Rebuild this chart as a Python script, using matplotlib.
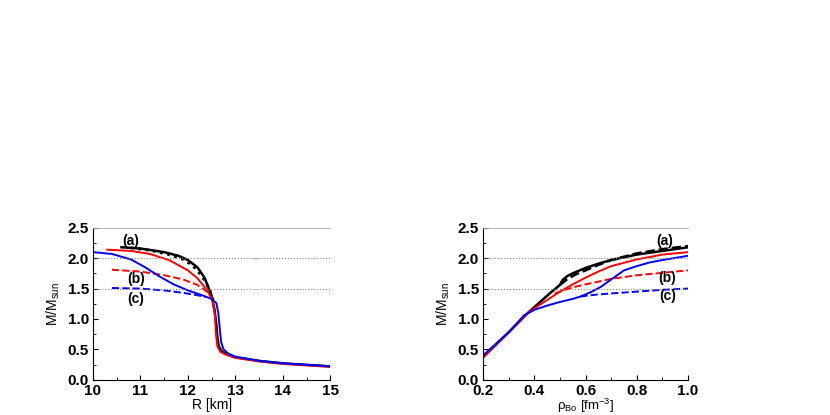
import numpy as np
import matplotlib
matplotlib.use('Agg')
import matplotlib.pyplot as plt
from matplotlib.ticker import MultipleLocator

plt.rcParams.update({'font.family': 'Liberation Sans', 'font.weight': 'bold', 'font.size': 11,
                     'mathtext.default': 'regular'})

# ---- left panel: M vs R ----
R_blk = [10.6, 11.0, 11.5, 11.8, 12.0, 12.2, 12.35, 12.5, 12.56, 12.6, 12.62, 12.65, 12.72, 12.85, 13.0, 13.5, 14.0, 14.5, 15.0]
M_blk = [2.18, 2.16, 2.10, 2.04, 1.97, 1.85, 1.68, 1.38, 1.15, 0.90, 0.70, 0.55, 0.46, 0.41, 0.37, 0.31, 0.27, 0.245, 0.22]
R_blkd = [10.8, 11.2, 11.6, 11.9, 12.1, 12.3, 12.45, 12.55]
M_blkd = [2.17, 2.13, 2.06, 1.98, 1.88, 1.70, 1.50, 1.25]
R_red = [10.3, 10.8, 11.2, 11.6, 12.0, 12.2, 12.4, 12.52, 12.57, 12.59, 12.62, 12.68, 12.8, 13.0, 13.5, 14.0, 14.5, 15.0]
M_red = [2.14, 2.12, 2.07, 1.97, 1.80, 1.67, 1.48, 1.30, 1.05, 0.75, 0.55, 0.46, 0.41, 0.36, 0.30, 0.26, 0.235, 0.21]
R_redd = [10.4, 11.0, 11.5, 11.9, 12.2, 12.4, 12.52]
M_redd = [1.81, 1.78, 1.72, 1.65, 1.56, 1.45, 1.33]
R_blu = [10.0, 10.4, 10.8, 11.1, 11.4, 11.7, 12.0, 12.3, 12.5, 12.6, 12.64, 12.67, 12.7, 12.75, 12.85, 13.0, 13.5, 14.0, 14.5, 15.0]
M_blu = [2.10, 2.07, 1.98, 1.85, 1.70, 1.57, 1.47, 1.39, 1.33, 1.26, 1.10, 0.85, 0.62, 0.50, 0.43, 0.38, 0.31, 0.27, 0.245, 0.22]
R_blud = [10.4, 11.0, 11.5, 11.9, 12.2, 12.4]
M_blud = [1.51, 1.50, 1.47, 1.43, 1.39, 1.36]

# ---- right panel: M vs rho ----
rho_blk = [0.2, 0.3, 0.38, 0.42, 0.46, 0.5, 0.51, 0.53, 0.56, 0.6, 0.65, 0.7, 0.8, 0.9, 1.0]
Mr_blk = [0.38, 0.78, 1.12, 1.27, 1.42, 1.56, 1.64, 1.71, 1.77, 1.84, 1.91, 1.97, 2.06, 2.12, 2.18]
rho_blkd = [0.5, 0.53, 0.56, 0.6, 0.65, 0.7, 0.8, 0.9, 1.0]
Mr_blkd = [1.56, 1.66, 1.73, 1.80, 1.89, 1.97, 2.08, 2.15, 2.20]
rho_red = [0.2, 0.3, 0.38, 0.42, 0.46, 0.5, 0.55, 0.6, 0.65, 0.7, 0.8, 0.9, 1.0]
Mr_red = [0.36, 0.78, 1.12, 1.23, 1.34, 1.45, 1.57, 1.68, 1.78, 1.87, 1.98, 2.06, 2.10]
rho_redd = [0.48, 0.52, 0.56, 0.6, 0.7, 0.8, 0.9, 1.0]
Mr_redd = [1.42, 1.48, 1.53, 1.57, 1.66, 1.72, 1.76, 1.80]
rho_blu = [0.2, 0.3, 0.36, 0.4, 0.45, 0.5, 0.55, 0.58, 0.62, 0.66, 0.7, 0.75, 0.8, 0.85, 0.9, 1.0]
Mr_blu = [0.40, 0.78, 1.06, 1.15, 1.22, 1.28, 1.33, 1.37, 1.44, 1.53, 1.65, 1.80, 1.87, 1.93, 1.97, 2.04]
rho_blud = [0.58, 0.64, 0.7, 0.8, 0.9, 1.0]
Mr_blud = [1.37, 1.40, 1.42, 1.45, 1.48, 1.50]

fig = plt.figure(figsize=(8.3, 4.15), dpi=100)
axL = fig.add_axes([0.112, 0.085, 0.286, 0.366])
axR = fig.add_axes([0.582, 0.085, 0.247, 0.366])

def style(ax):
    ax.set_ylim(0, 2.5)
    ax.yaxis.set_major_locator(MultipleLocator(0.5))
    ax.yaxis.set_minor_locator(MultipleLocator(0.25))
    ax.tick_params(which='both', direction='in', top=False, right=False, labelsize=11, pad=3)
    ax.spines['right'].set_visible(False)
    ax.spines['top'].set_color('#aaaaaa')
    ax.spines['top'].set_linewidth(0.6)
    for y in (1.5, 2.0):
        ax.axhline(y, color='gray', ls=':', lw=0.8)
    ax.set_ylabel(r'M/M$_{sun}$', fontsize=10)

lw = 1.4
axL.plot(R_blk, M_blk, 'k-', lw=lw + 0.4)
axL.plot(R_blkd, M_blkd, 'k:', lw=lw + 0.6)
axL.plot(R_red, M_red, 'r-', lw=lw)
axL.plot(R_redd, M_redd, 'r--', lw=lw)
axL.plot(R_blu, M_blu, 'b-', lw=lw)
axL.plot(R_blud, M_blud, 'b--', lw=lw)
axL.set_xlim(10, 15)
axL.xaxis.set_major_locator(MultipleLocator(1))
axL.xaxis.set_minor_locator(MultipleLocator(0.5))
axL.set_xlabel('R [km]', labelpad=0, fontsize=10)
for t, x, y in [('(a)', 10.8, 2.28), ('(b)', 10.9, 1.66), ('(c)', 10.9, 1.33)]:
    axL.text(x, y, t, ha='center', va='center', fontsize=10)
style(axL)

axR.plot(rho_blk, Mr_blk, 'k-', lw=lw + 0.4)
axR.plot(rho_blkd, Mr_blkd, 'k--', lw=lw + 0.4)
axR.plot(rho_red, Mr_red, 'r-', lw=lw)
axR.plot(rho_redd, Mr_redd, 'r--', lw=lw)
axR.plot(rho_blu, Mr_blu, 'b-', lw=lw)
axR.plot(rho_blud, Mr_blud, 'b--', lw=lw)
axR.set_xlim(0.2, 1.0)
axR.xaxis.set_major_locator(MultipleLocator(0.2))
axR.xaxis.set_minor_locator(MultipleLocator(0.1))
axR.set_xlabel(r'$\rho_{Bo}$ [fm$^{-3}$]', labelpad=-1, fontsize=9.5)
for t, x, y in [('(a)', 0.91, 2.28), ('(b)', 0.92, 1.67), ('(c)', 0.92, 1.38)]:
    axR.text(x, y, t, ha='center', va='center', fontsize=10)
style(axR)

fig.savefig('out.png', dpi=100)
